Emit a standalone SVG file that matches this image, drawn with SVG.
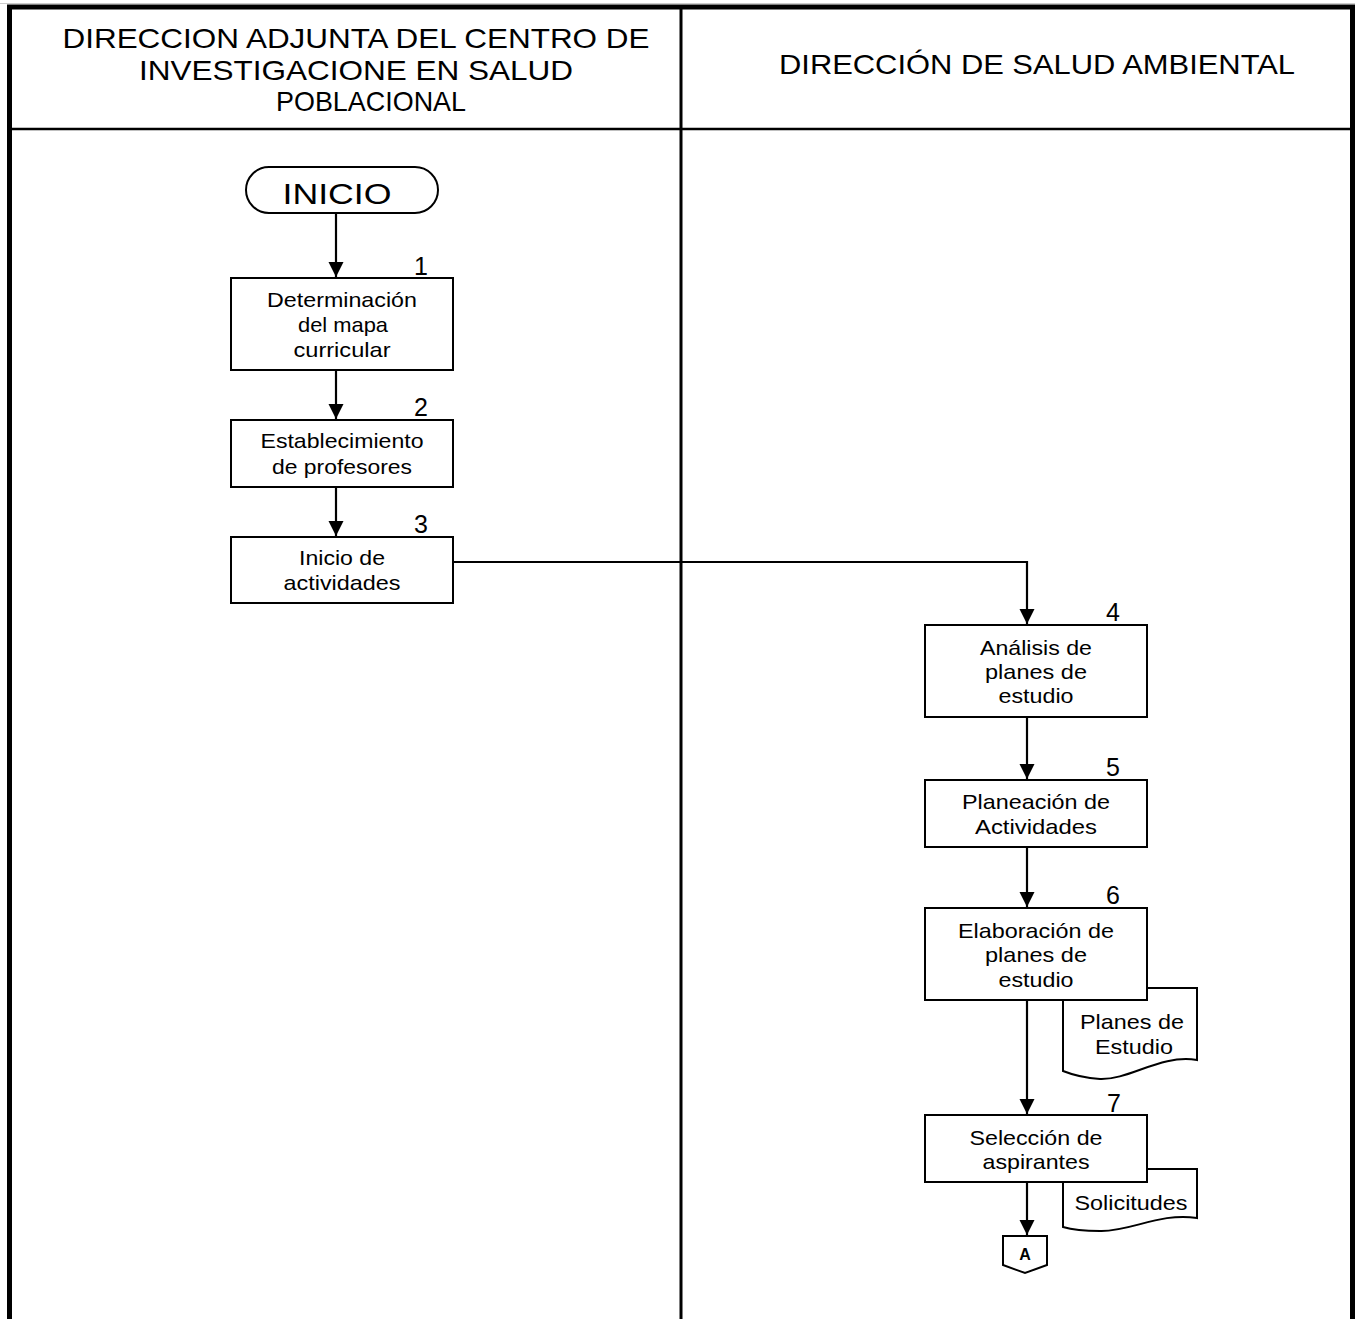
<svg xmlns="http://www.w3.org/2000/svg" width="1355" height="1319" viewBox="0 0 1355 1319">
<defs>
<marker id="ah" markerWidth="16" markerHeight="16" viewBox="0 0 16 16" refX="15" refY="8" orient="auto" markerUnits="userSpaceOnUse">
<path d="M0,0.5 L15,8 L0,15.5 Z" fill="#000"/>
</marker>
<style>
.hd{font-family:"Liberation Sans",Arial,sans-serif;font-size:28.5px;fill:#000;text-anchor:middle}
.t{font-family:"Liberation Sans",Arial,sans-serif;font-size:21px;fill:#000;text-anchor:middle}
.n{font-family:"Liberation Sans",Arial,sans-serif;font-size:25px;fill:#000;text-anchor:middle}
.box{fill:#fff;stroke:#000;stroke-width:2}
.cn{fill:none;stroke:#000;stroke-width:2.2}
</style>
</defs>
<rect width="1355" height="1319" fill="#fff"/>
<g id="frame">
<line x1="0" y1="3.5" x2="1355" y2="3.5" stroke="#ccc" stroke-width="1"/>
<line x1="7" y1="7" x2="1355" y2="7" stroke="#000" stroke-width="5"/>
<line x1="9.5" y1="5" x2="9.5" y2="1319" stroke="#000" stroke-width="5"/>
<line x1="1352.5" y1="5" x2="1352.5" y2="1319" stroke="#000" stroke-width="5"/>
<line x1="9" y1="129" x2="1352" y2="129" stroke="#000" stroke-width="2.5"/>
<line x1="681" y1="7" x2="681" y2="1319" stroke="#000" stroke-width="3"/>
</g>
<g id="lane1-header">
<text class="hd" x="356" y="47.5" textLength="587" lengthAdjust="spacingAndGlyphs">DIRECCION ADJUNTA DEL CENTRO DE</text>
<text class="hd" x="356" y="79.5" textLength="434" lengthAdjust="spacingAndGlyphs">INVESTIGACIONE EN SALUD</text>
<text class="hd" x="371" y="110.5" textLength="190" lengthAdjust="spacingAndGlyphs">POBLACIONAL</text>
</g>
<g id="lane2-header">
<text class="hd" x="1037" y="73.5" textLength="516" lengthAdjust="spacingAndGlyphs">DIRECCIÓN DE SALUD AMBIENTAL</text>
</g>
<g id="connectors">
<line class="cn" x1="336" y1="213" x2="336" y2="277" marker-end="url(#ah)"/>
<line class="cn" x1="336" y1="370" x2="336" y2="419" marker-end="url(#ah)"/>
<line class="cn" x1="336" y1="487" x2="336" y2="536" marker-end="url(#ah)"/>
<polyline class="cn" points="453,562 1027,562 1027,624" marker-end="url(#ah)"/>
<line class="cn" x1="1027" y1="717" x2="1027" y2="779" marker-end="url(#ah)"/>
<line class="cn" x1="1027" y1="847" x2="1027" y2="907" marker-end="url(#ah)"/>
<line class="cn" x1="1027" y1="1000" x2="1027" y2="1114" marker-end="url(#ah)"/>
<line class="cn" x1="1027" y1="1182" x2="1027" y2="1235" marker-end="url(#ah)"/>
</g>
<g id="inicio">
<rect class="box" x="246" y="167" width="192" height="46" rx="23" ry="23"/>
<text x="337" y="204" font-family="Liberation Sans, Arial, sans-serif" font-size="30" text-anchor="middle" textLength="109" lengthAdjust="spacingAndGlyphs">INICIO</text>
</g>
<g id="step1">
<rect class="box" x="231" y="278" width="222" height="92"/>
<text class="n" x="421" y="275">1</text>
<text class="t" x="342" y="307" textLength="150" lengthAdjust="spacingAndGlyphs">Determinación</text>
<text class="t" x="343" y="332" textLength="90" lengthAdjust="spacingAndGlyphs">del mapa</text>
<text class="t" x="342" y="357" textLength="97" lengthAdjust="spacingAndGlyphs">curricular</text>
</g>
<g id="step2">
<rect class="box" x="231" y="420" width="222" height="67"/>
<text class="n" x="421" y="416">2</text>
<text class="t" x="342" y="448" textLength="163" lengthAdjust="spacingAndGlyphs">Establecimiento</text>
<text class="t" x="342" y="474" textLength="140" lengthAdjust="spacingAndGlyphs">de profesores</text>
</g>
<g id="step3">
<rect class="box" x="231" y="537" width="222" height="66"/>
<text class="n" x="421" y="533">3</text>
<text class="t" x="342" y="565" textLength="86" lengthAdjust="spacingAndGlyphs">Inicio de</text>
<text class="t" x="342" y="590" textLength="117" lengthAdjust="spacingAndGlyphs">actividades</text>
</g>
<g id="step4">
<rect class="box" x="925" y="625" width="222" height="92"/>
<text class="n" x="1113" y="621">4</text>
<text class="t" x="1036" y="655" textLength="112" lengthAdjust="spacingAndGlyphs">Análisis de</text>
<text class="t" x="1036" y="679" textLength="102" lengthAdjust="spacingAndGlyphs">planes de</text>
<text class="t" x="1036" y="703" textLength="75" lengthAdjust="spacingAndGlyphs">estudio</text>
</g>
<g id="step5">
<rect class="box" x="925" y="780" width="222" height="67"/>
<text class="n" x="1113" y="776">5</text>
<text class="t" x="1036" y="809" textLength="148" lengthAdjust="spacingAndGlyphs">Planeación de</text>
<text class="t" x="1036" y="834" textLength="122" lengthAdjust="spacingAndGlyphs">Actividades</text>
</g>
<g id="doc-planes">
<path class="box" d="M1063,988 L1197,988 L1197,1060 C1160,1054 1130,1080 1100,1079 C1085,1078 1073,1075 1063,1071 Z"/>
<text class="t" x="1132" y="1029" textLength="104" lengthAdjust="spacingAndGlyphs">Planes de</text>
<text class="t" x="1134" y="1054" textLength="78" lengthAdjust="spacingAndGlyphs">Estudio</text>
</g>
<g id="step6">
<rect class="box" x="925" y="908" width="222" height="92"/>
<text class="n" x="1113" y="904">6</text>
<text class="t" x="1036" y="938" textLength="156" lengthAdjust="spacingAndGlyphs">Elaboración de</text>
<text class="t" x="1036" y="962" textLength="102" lengthAdjust="spacingAndGlyphs">planes de</text>
<text class="t" x="1036" y="987" textLength="75" lengthAdjust="spacingAndGlyphs">estudio</text>
</g>
<g id="doc-solicitudes">
<path class="box" d="M1063,1169 L1197,1169 L1197,1218 C1160,1212 1130,1232 1100,1231 C1085,1231 1073,1230 1063,1227 Z"/>
<text class="t" x="1131" y="1210" textLength="113" lengthAdjust="spacingAndGlyphs">Solicitudes</text>
</g>
<g id="step7">
<rect class="box" x="925" y="1115" width="222" height="67"/>
<text class="n" x="1114" y="1112">7</text>
<text class="t" x="1036" y="1145" textLength="133" lengthAdjust="spacingAndGlyphs">Selección de</text>
<text class="t" x="1036" y="1169" textLength="107" lengthAdjust="spacingAndGlyphs">aspirantes</text>
</g>
<g id="connector-A">
<path class="box" d="M1003,1236 L1047,1236 L1047,1265 L1025,1273 L1003,1265 Z"/>
<text x="1025" y="1260" font-family="Liberation Sans, Arial, sans-serif" font-size="16" font-weight="bold" text-anchor="middle">A</text>
</g>
</svg>
